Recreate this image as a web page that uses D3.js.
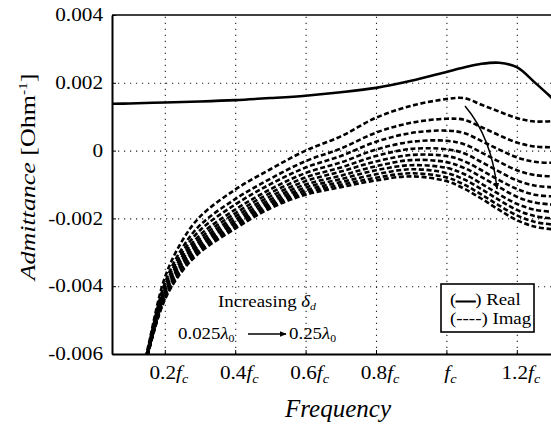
<!DOCTYPE html>
<html>
<head>
<meta charset="utf-8">
<script src="https://cdn.jsdelivr.net/npm/d3@7"></script>
<style>
  body { margin: 0; background: #fff; }
  svg { display: block; }
  text { font-family: "Liberation Serif", "Times New Roman", Times, serif; }
</style>
</head>
<body>
<svg id="chart" width="551" height="426"></svg>
<script>
// values, admittance in mS (1e-3 Ohm^-1)
var freq = [0.12, 0.15, 0.2, 0.25, 0.3, 0.4, 0.5, 0.6, 0.7, 0.8, 0.9, 1.0, 1.05, 1.1, 1.15, 1.2, 1.25, 1.3];

var realFreq = [0.05, 0.1, 0.2, 0.3, 0.4, 0.5, 0.6, 0.7, 0.8, 0.9, 1.0, 1.05, 1.1, 1.15, 1.2, 1.25, 1.3];
var realPart = [1.38, 1.39, 1.42, 1.45, 1.49, 1.55, 1.62, 1.72, 1.85, 2.06, 2.32, 2.45, 2.56, 2.59, 2.46, 2.02, 1.55];

// imaginary part, one row per delta_d step (0.025 lambda0 .. 0.25 lambda0)
var imagPart = [
  [-7.20, -5.90, -3.75, -2.65, -1.95, -1.15, -0.55,  0.00,  0.42,  0.97,  1.32,  1.52,  1.55,  1.35,  1.15,  0.96,  0.86,  0.87],
  [-7.30, -5.95, -3.91, -2.87, -2.20, -1.43, -0.83, -0.31,  0.06,  0.53,  0.82,  0.94,  0.91,  0.69,  0.45,  0.24,  0.12,  0.10],
  [-7.35, -5.98, -4.00, -3.00, -2.35, -1.59, -0.99, -0.50, -0.16,  0.26,  0.52,  0.59,  0.52,  0.28,  0.03, -0.20, -0.33, -0.36],
  [-7.40, -6.00, -4.08, -3.11, -2.49, -1.74, -1.14, -0.66, -0.35,  0.03,  0.26,  0.29,  0.19, -0.06, -0.33, -0.58, -0.72, -0.76],
  [-7.44, -6.02, -4.15, -3.20, -2.59, -1.85, -1.25, -0.79, -0.50, -0.16,  0.05,  0.04, -0.08, -0.34, -0.62, -0.88, -1.03, -1.08],
  [-7.48, -6.04, -4.20, -3.28, -2.68, -1.95, -1.35, -0.90, -0.62, -0.32, -0.13, -0.16, -0.31, -0.58, -0.87, -1.13, -1.30, -1.35],
  [-7.51, -6.05, -4.25, -3.34, -2.76, -2.04, -1.44, -1.00, -0.74, -0.46, -0.28, -0.34, -0.51, -0.78, -1.08, -1.36, -1.53, -1.59],
  [-7.54, -6.07, -4.30, -3.41, -2.83, -2.12, -1.52, -1.09, -0.84, -0.58, -0.43, -0.51, -0.69, -0.98, -1.29, -1.57, -1.74, -1.81],
  [-7.56, -6.08, -4.34, -3.46, -2.90, -2.19, -1.59, -1.17, -0.93, -0.70, -0.55, -0.66, -0.85, -1.14, -1.46, -1.75, -1.93, -2.00],
  [-7.58, -6.09, -4.37, -3.51, -2.95, -2.25, -1.65, -1.24, -1.01, -0.80, -0.67, -0.79, -1.00, -1.30, -1.62, -1.91, -2.10, -2.18],
  [-7.60, -6.10, -4.40, -3.55, -3.00, -2.30, -1.70, -1.30, -1.08, -0.88, -0.76, -0.90, -1.12, -1.42, -1.75, -2.05, -2.24, -2.32]
];

var xTicks = [0.2, 0.4, 0.6, 0.8, 1.0, 1.2];
var xTickLabels = ["0.2", "0.4", "0.6", "0.8", "", "1.2"];
var yTicks = [-6, -4, -2, 0, 2, 4];
var yTickLabels = ["-0.006", "-0.004", "-0.002", "0", "0.002", "0.004"];

var svg = d3.select("#chart");
var plotLeft = 112, plotRight = 552, plotTop = 15, plotBottom = 354;
var stretch = 1.18;
var serif = "'Liberation Serif', 'Times New Roman', Times, serif";

var xScale = d3.scaleLinear().domain([0.05, 1.3]).range([plotLeft, plotRight]);
var yScale = d3.scaleLinear().domain([-6, 4]).range([plotBottom, plotTop]);

var defs = svg.append("defs");
defs.append("clipPath").attr("id", "plotclip")
  .append("rect")
  .attr("x", plotLeft).attr("y", plotTop)
  .attr("width", plotRight - plotLeft).attr("height", plotBottom - plotTop);

defs.append("marker")
  .attr("id", "head")
  .attr("viewBox", "0 0 10 10")
  .attr("refX", 9).attr("refY", 5)
  .attr("markerWidth", 7).attr("markerHeight", 7)
  .attr("markerUnits", "userSpaceOnUse")
  .attr("orient", "auto")
  .append("path").attr("d", "M0,1 L10,5 L0,9 Z").attr("fill", "#000");

// dotted grid
svg.append("g")
  .attr("transform", "translate(0," + plotBottom + ")")
  .call(d3.axisBottom(xScale).tickValues(xTicks).tickSize(-(plotBottom - plotTop)).tickFormat(""))
  .call(g => g.select(".domain").remove())
  .selectAll("line")
  .attr("stroke", "#222").attr("stroke-width", 1.1).attr("stroke-dasharray", "1.2,4.8");

svg.append("g")
  .attr("transform", "translate(" + plotLeft + ",0)")
  .call(d3.axisLeft(yScale).tickValues([-4, -2, 0, 2]).tickSize(-(plotRight - plotLeft)).tickFormat(""))
  .call(g => g.select(".domain").remove())
  .selectAll("line")
  .attr("stroke", "#222").attr("stroke-width", 1.1).attr("stroke-dasharray", "1.2,4.8");

// curves
var plot = svg.append("g").attr("clip-path", "url(#plotclip)");

var imagLine = d3.line()
  .x((d, i) => xScale(freq[i]))
  .y(d => yScale(d))
  .curve(d3.curveCatmullRom);

plot.selectAll("path.imag")
  .data(imagPart)
  .enter().append("path")
  .attr("class", "imag")
  .attr("d", imagLine)
  .attr("fill", "none")
  .attr("stroke", "#000")
  .attr("stroke-width", 2.6)
  .attr("stroke-dasharray", "5,2.6");

var realLine = d3.line()
  .x((d, i) => xScale(realFreq[i]))
  .y(d => yScale(d))
  .curve(d3.curveCatmullRom);

plot.append("path")
  .datum(realPart)
  .attr("d", realLine)
  .attr("fill", "none")
  .attr("stroke", "#000")
  .attr("stroke-width", 2.6);

// frame
svg.append("line")
  .attr("x1", plotLeft).attr("x2", plotRight).attr("y1", plotTop).attr("y2", plotTop)
  .attr("stroke", "#000").attr("stroke-width", 1.6);

var xAxis = svg.append("g")
  .attr("transform", "translate(0," + plotBottom + ")")
  .call(d3.axisBottom(xScale).tickValues(xTicks).tickSizeInner(-4).tickSizeOuter(0).tickPadding(12));
xAxis.attr("font-family", serif).attr("font-size", null);
xAxis.select(".domain").attr("stroke-width", 2);
xAxis.selectAll("text")
  .attr("font-family", serif)
  .attr("font-size", "18px")
  .attr("fill", "#000")
  .attr("x", 3)
  .attr("transform", "scale(" + stretch + ",1)")
  .each(function (d, i) {
    var t = d3.select(this).text(null);
    t.append("tspan").text(xTickLabels[i]);
    t.append("tspan").attr("font-style", "italic").text("f");
    t.append("tspan").attr("font-style", "italic").attr("font-size", "12px").attr("dy", "4").text("c");
  });

var yAxis = svg.append("g")
  .attr("transform", "translate(" + plotLeft + ",0)")
  .call(d3.axisLeft(yScale).tickValues(yTicks).tickSizeInner(-4).tickSizeOuter(0).tickPadding(9)
    .tickFormat((d, i) => yTickLabels[i]));
yAxis.attr("font-family", serif).attr("font-size", null);
yAxis.select(".domain").attr("stroke-width", 2);
yAxis.selectAll("text")
  .attr("font-family", serif)
  .attr("font-size", "18px")
  .attr("fill", "#000")
  .attr("x", -9 / stretch)
  .attr("transform", "scale(" + stretch + ",1)");

// axis titles
svg.append("text")
  .attr("x", 338).attr("y", 417)
  .attr("text-anchor", "middle")
  .attr("font-size", "25px")
  .attr("font-style", "italic")
  .text("Frequency");

var ytitle = svg.append("text")
  .attr("transform", "translate(35,177) rotate(-90) scale(" + stretch + ",1)")
  .attr("text-anchor", "middle")
  .attr("font-size", "22px");
ytitle.append("tspan").attr("font-style", "italic").text("Admittance");
ytitle.append("tspan").text(" [Ohm");
ytitle.append("tspan").attr("font-size", "13px").attr("dy", "-8").text("-1");
ytitle.append("tspan").attr("dy", "8").text("]");

// annotation
var ann = svg.append("g").attr("font-size", "16px");
var inc = ann.append("text").attr("transform", "translate(218,307) scale(" + stretch + ",1)");
inc.append("tspan").text("Increasing ");
inc.append("tspan").attr("font-style", "italic").text("\u03b4");
inc.append("tspan").attr("font-style", "italic").attr("font-size", "10px").attr("dy", "3").text("d");

var from = ann.append("text").attr("transform", "translate(178,339) scale(" + stretch + ",1)");
from.append("tspan").text("0.025");
from.append("tspan").attr("font-style", "italic").text("\u03bb");
from.append("tspan").attr("font-size", "10px").attr("dy", "3").text("0");

var to = ann.append("text").attr("transform", "translate(289,339) scale(" + stretch + ",1)");
to.append("tspan").text("0.25");
to.append("tspan").attr("font-style", "italic").text("\u03bb");
to.append("tspan").attr("font-size", "10px").attr("dy", "3").text("0");

ann.append("line")
  .attr("x1", 248).attr("x2", 286).attr("y1", 334).attr("y2", 334)
  .attr("stroke", "#000").attr("stroke-width", 1.3)
  .attr("marker-end", "url(#head)");

svg.append("path")
  .attr("d", "M465,106 Q492,138 497,189")
  .attr("fill", "none")
  .attr("stroke", "#000")
  .attr("stroke-width", 1.5)
  .attr("marker-end", "url(#head)");

// legend
var lg = svg.append("g");
lg.append("rect")
  .attr("x", 441).attr("y", 284).attr("width", 93).attr("height", 48)
  .attr("fill", "#fff").attr("stroke", "#000").attr("stroke-width", 1.6);
var l1 = lg.append("text").attr("font-size", "16px")
  .attr("transform", "translate(450,305) scale(" + stretch + ",1)");
l1.append("tspan").text("(");
l1.append("tspan").attr("stroke", "#000").attr("stroke-width", 1).text("\u2014");
l1.append("tspan").text(") Real");
lg.append("text").attr("font-size", "16px")
  .attr("transform", "translate(450,324) scale(" + stretch + ",1)")
  .text("(----) Imag");
</script>
</body>
</html>
